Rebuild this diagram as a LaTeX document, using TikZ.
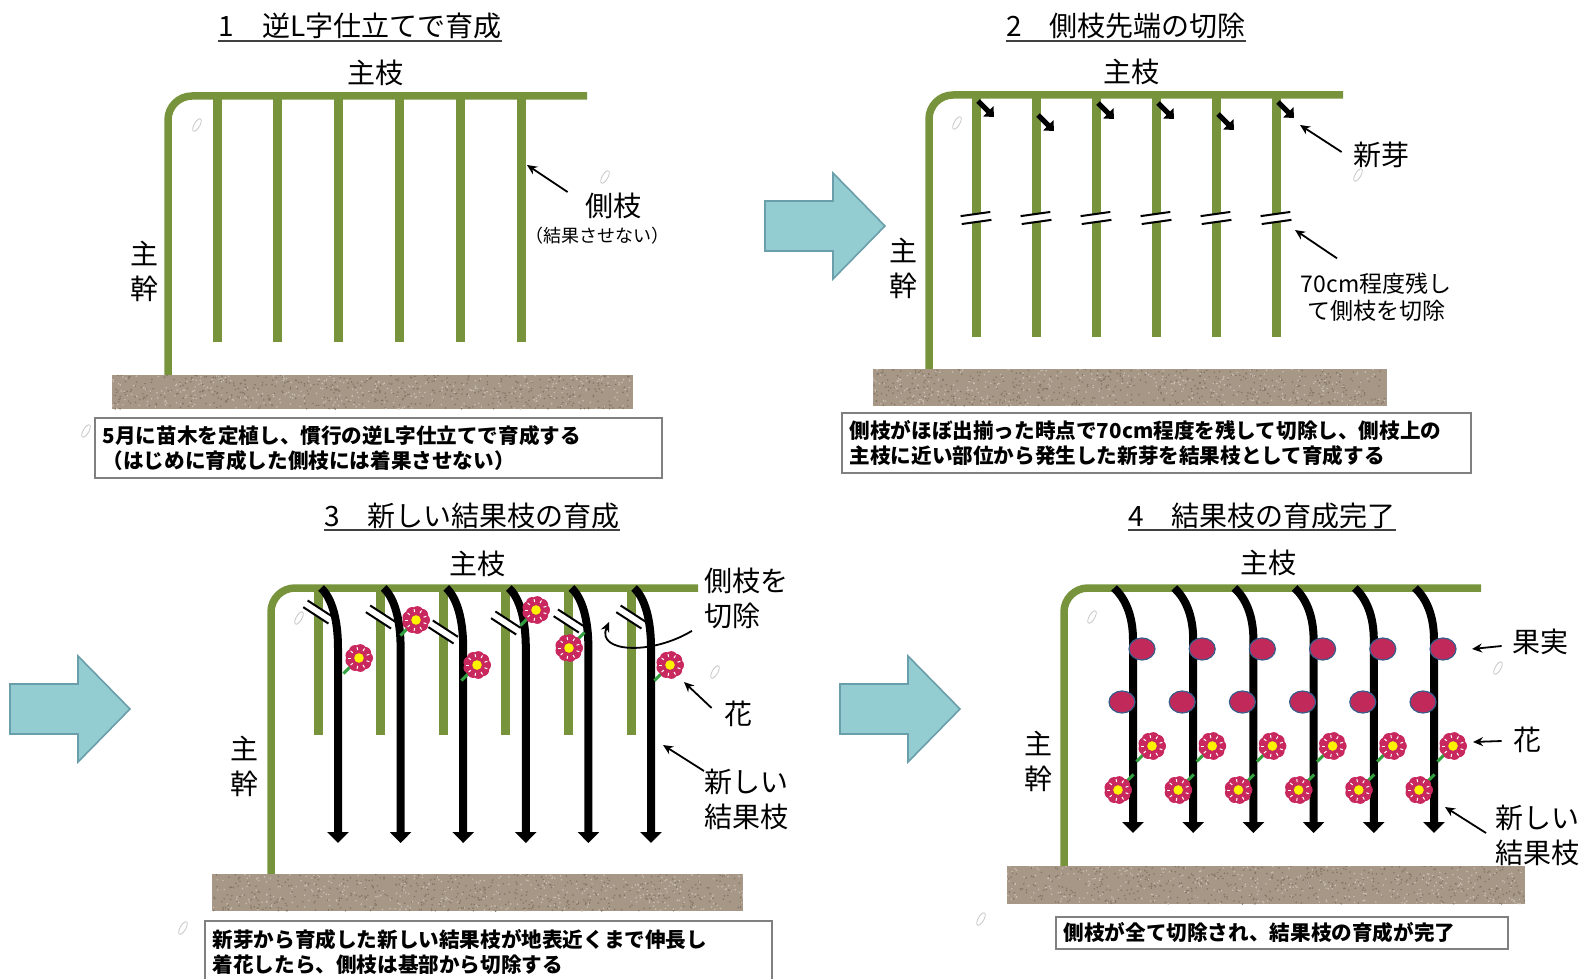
\documentclass[tikz,border=0pt]{standalone}
\usepackage{fontspec}
\setmainfont{Noto Sans CJK JP}
\usepackage{tikz}
\usetikzlibrary{arrows.meta}

\definecolor{woodgreen}{HTML}{77933C}
\definecolor{soilbase}{HTML}{A69786}
\definecolor{soildark}{HTML}{857565}
\definecolor{soillight}{HTML}{C9BEB2}
\definecolor{petalred}{HTML}{C8285E}
\definecolor{fruitred}{HTML}{C0295A}
\definecolor{fruitrim}{HTML}{385D8A}
\definecolor{stemgreen}{HTML}{33A040}
\definecolor{flowfill}{HTML}{93CDD1}
\definecolor{flowrim}{HTML}{6A9EAA}

\newcommand{\soilbed}[4]{%
	\begin{scope}
		\clip (#1,#2) rectangle (#3,#4);
		\fill[soilbase] (#1,#2) rectangle (#3,#4);
		\foreach \k in {1,...,500}
			\fill[soildark] ({#1+rnd*(#3-#1)},{#2+rnd*(#4-#2)}) circle (0.45pt);
		\foreach \k in {1,...,350}
			\fill[soillight] ({#1+rnd*(#3-#1)},{#2+rnd*(#4-#2)}) circle (0.45pt);
	\end{scope}
}

\begin{document}
\begin{tikzpicture}[x=0.5pt,y=-0.5pt]
	\tikzset{
		mainwood/.style={draw=woodgreen,line width=3.75pt,rounded corners=12pt},
		sidewood/.style={draw=woodgreen,line width=4.5pt},
		newshoot/.style={draw=black,line width=4pt,-{Triangle[width=10.5pt,length=5.5pt]}},
		budarrow/.style={draw=black,line width=2.5pt,-{Triangle[width=7pt,length=4pt]}},
		pointer/.style={draw=black,line width=0.9pt,-{Stealth[length=5pt,width=4.5pt]}},
		cutline/.style={draw=black,line width=1pt},
		stem/.style={draw=stemgreen,line width=1.5pt},
		petal/.style={fill=petalred},
		fruit/.style={fill=fruitred,draw=fruitrim,line width=0.6pt},
		flowarrow/.style={fill=flowfill,draw=flowrim,line width=0.8pt},
		ghostline/.style={draw=black!22,line width=0.4pt},
		uline/.style={draw=black!75,line width=1pt},
		titletext/.style={font=\fontsize{14pt}{16pt}\selectfont,inner sep=0pt,anchor=base},
		lbl/.style={font=\fontsize{14pt}{17.5pt}\selectfont,inner sep=1pt},
		lblmid/.style={font=\fontsize{11.5pt}{13.5pt}\selectfont,inner sep=1pt},
		lblsmall/.style={font=\fontsize{9pt}{11pt}\selectfont,inner sep=1pt},
		notebox/.style={draw=black!50,line width=0.75pt,fill=white,inner xsep=4pt,inner ysep=0pt,
			align=left,anchor=north west,font=\fontsize{10.3pt}{12.5pt}\selectfont\bfseries},
		cutmark/.pic={
			\fill[white] (-15,-4) -- (15,-4) -- (15,4) -- (-15,4) -- cycle;
			\draw[cutline] (-15,-4) -- (15,-4) (-15,4) -- (15,4);
		},
		bloom/.pic={
			\draw[stem] (0,0) -- (#1:22);
			\foreach \a in {0,40,...,320}
				\fill[petal] (\a:8) circle (3pt);
			\fill[petal] (0,0) circle (5pt);
			\foreach \a in {20,60,...,340}
				\draw[white,line width=0.5pt] (\a:8) -- (\a:11);
			\fill[yellow] (0,0) circle (2.4pt);
		},
		flowstep/.pic={
			\draw[flowarrow] (0,-25) -- (68,-25) -- (68,-53) -- (120,0) -- (68,53) -- (68,25) -- (0,25) -- cycle;
		},
		ghost/.pic={
			\draw[ghostline,rotate=60] (0,0) ellipse (3.5pt and 1.4pt);
		}
	}
	\useasboundingbox (0,0) rectangle (1589,979);
	\pgfmathsetseed{11}

	% headings
	\node[titletext] (title1) at (360,37) {1　逆L字仕立てで育成};
	\node[titletext] (title2) at (1126,37) {2　側枝先端の切除};
	\node[titletext] (title3) at (472,526) {3　新しい結果枝の育成};
	\node[titletext] (title4) at (1262,526) {4　結果枝の育成完了};
	\foreach \t in {title1,title2,title3,title4}
		\draw[uline] ([yshift=-2pt]\t.base west) -- ([yshift=-2pt]\t.base east);

	% step arrows
	\pic at (765,226) {flowstep};
	\pic at (10,709) {flowstep};
	\pic at (840,709) {flowstep};

	% stray marks
	\foreach \p in {(197,125),(605,177),(86,431),(957,123),(1358,175),(299,618),(715,672),(183,928),(1092,617),(1498,668),(981,919)}
		\pic at \p {ghost};

	% 1: inverted L
	\foreach \i in {0,...,5}
		\draw[sidewood] ({217+60.8*\i},96) -- ({217+60.8*\i},342);
	\draw[mainwood] (168,375) |- (587,96);
	\soilbed{112}{375}{633}{409}
	\node[lbl] (main1) at (375,73) {主枝};
	\node[lbl,align=center] (trunk1) at (144,271) {主\\幹};
	\coordinate (sidetip) at (527,165);
	\node[lbl] (sidelbl) at (613,206) {側枝};
	\node[lblsmall] (sidenote) at (597,236) {（結果させない）};
	\draw[pointer] ([shift={(-15,-14)}]sidelbl.west) -- (sidetip);
	\node[notebox,text width=275.5pt,minimum height=30pt] (note1) at (94,417)
		{5月に苗木を定植し、慣行の逆L字仕立てで育成する\\（はじめに育成した側枝には着果させない）};

	% 2: cutting the side branches
	\foreach \i/\dy in {0/0,1/14,2/2,3/2,4/13,5/1}{
		\pgfmathsetmacro{\xb}{976+60*\i}
		\draw[sidewood] (\xb,95) -- (\xb,337);
		\pic[rotate=8] at (\xb,218) {cutmark};
		\draw[budarrow] ({\xb+2},{101+\dy}) -- ++(16,16);
	}
	\draw[mainwood] (929,370) |- (1343,95);
	\soilbed{873}{369}{1387}{406}
	\node[lbl] (main2) at (1131,72) {主枝};
	\node[lbl,align=center] (trunk2) at (903,268) {主\\幹};
	\coordinate (budtip) at (1300,125);
	\node[lbl] (budlbl) at (1381,155) {新芽};
	\draw[pointer] ([shift={(-9,-3)}]budlbl.west) -- (budtip);
	\coordinate (cuttip2) at (1295,230);
	\node[lblmid,align=center] (cutlbl2) at (1376,297) {70cm程度残し\\て側枝を切除};
	\draw[pointer] ([shift={(-39,-12)}]cutlbl2.north) -- (cuttip2);
	\node[notebox,text width=306.5pt,minimum height=30pt] (note2) at (841,412)
		{側枝がほぼ出揃った時点で70cm程度を残して切除し、側枝上の\\主枝に近い部位から発生した新芽を結果枝として育成する};

	% 3: new fruiting shoots
	\foreach \i/\cy in {0/612,1/617,2/632,3/623,4/621,5/617}{
		\pgfmathsetmacro{\xb}{318+62.6*\i}
		\draw[sidewood] (\xb,588) -- (\xb,735);
		\pic[rotate=-33] at (\xb,\cy) {cutmark};
	}
	\draw[mainwood] (271,874) |- (698,588);
	\foreach \i in {0,...,5}{
		\pgfmathsetmacro{\xb}{318+62.6*\i}
		\draw[newshoot] ({\xb+3},588) .. controls ({\xb+14},598) and ({\xb+20},620) .. ({\xb+20},648) -- ({\xb+20},843);
	}
	\pic at (359,658) {bloom=135};
	\pic at (416,620) {bloom=135};
	\pic at (477,665) {bloom=135};
	\pic at (536,610) {bloom=135};
	\pic at (569,648) {bloom=-45};
	\pic at (670,665) {bloom=135};
	\soilbed{212}{874}{743}{911}
	\node[lbl] (main3) at (477,564) {主枝};
	\node[lbl,align=center] (trunk3) at (244,766) {主\\幹};
	\coordinate (cuttip3) at (609,622);
	\node[lbl,align=left,anchor=west] (cutlbl3) at (702,598) {側枝を\\切除};
	\draw[pointer] ([shift={(-10,0)}]cutlbl3.south west) .. controls (650,656) and (596,652) .. (cuttip3);
	\coordinate (flowertip3) at (684,682);
	\node[lbl] (flowerlbl3) at (738,714) {花};
	\draw[pointer] ([shift={(-10,-6)}]flowerlbl3.west) -- (flowertip3);
	\coordinate (shoottip3) at (663,745);
	\node[lbl,align=left,anchor=west] (shootlbl3) at (702,799) {新しい\\結果枝};
	\draw[pointer] ([shift={(2,-28)}]shootlbl3.west) -- (shoottip3);
	\node[notebox,text width=275.5pt,minimum height=31.5pt] (note3) at (204,920)
		{新芽から育成した新しい結果枝が地表近くまで伸長し\\着花したら、側枝は基部から切除する};

	% 4: finished fruiting shoots
	\draw[mainwood] (1064,866) |- (1481,588);
	\foreach \i in {0,...,5}{
		\pgfmathsetmacro{\xb}{1133+60.2*\i}
		\draw[newshoot] ({\xb-19},588) .. controls ({\xb-8},598) and (\xb,615) .. (\xb,640) -- (\xb,833);
		\draw[fruit] ({\xb+9},649) ellipse (6.5pt and 5.5pt);
		\draw[fruit] ({\xb-11},702) ellipse (6.5pt and 5.5pt);
		\pic at ({\xb+19},746) {bloom=135};
		\pic at ({\xb-15},790) {bloom=-45};
	}
	\soilbed{1007}{866}{1525}{904}
	\node[lbl] (main4) at (1268,563) {主枝};
	\node[lbl,align=center] (trunk4) at (1038,761) {主\\幹};
	\coordinate (fruittip) at (1472,649);
	\node[lbl] (fruitlbl) at (1540,642) {果実};
	\draw[pointer] ([shift={(-8,4)}]fruitlbl.west) -- (fruittip);
	\coordinate (flowertip4) at (1473,742);
	\node[lbl] (flowerlbl4) at (1527,740) {花};
	\draw[pointer] ([shift={(-9,1)}]flowerlbl4.west) -- (flowertip4);
	\coordinate (shoottip4) at (1445,807);
	\node[lbl,align=left,anchor=west] (shootlbl4) at (1493,835) {新しい\\結果枝};
	\draw[pointer] ([shift={(-7,-2)}]shootlbl4.west) -- (shoottip4);
	\node[notebox,text width=218pt,minimum height=16pt] (note4) at (1055,916)
		{側枝が全て切除され、結果枝の育成が完了};
\end{tikzpicture}
\end{document}
